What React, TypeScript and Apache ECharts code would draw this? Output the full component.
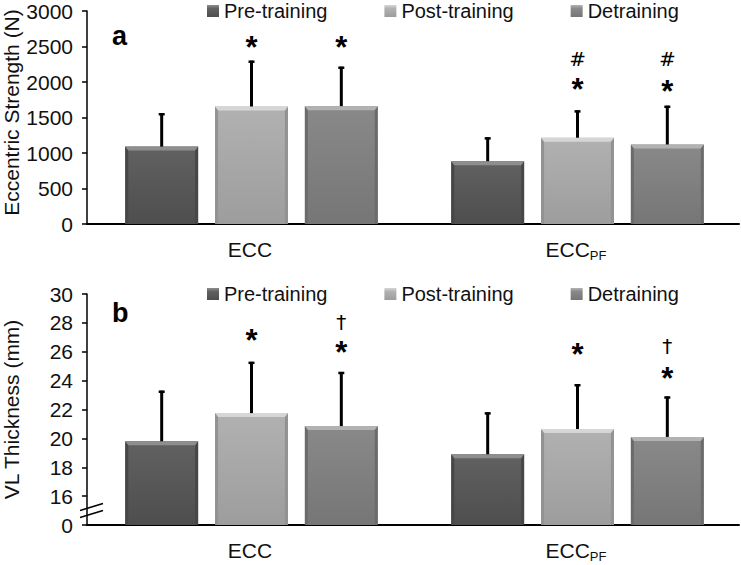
import React, { useEffect, useRef } from 'react';
import * as echarts from 'echarts';

// ---- data ----
const categories = ['ECC', 'ECC_PF'];
const seriesNames = ['Pre-training', 'Post-training', 'Detraining'];

// Panel a: eccentric strength (N)
const strengthPre = [1090, 885];
const strengthPost = [1655, 1215];
const strengthDet = [1660, 1120];
const strengthPreSD = [470, 335];
const strengthPostSD = [645, 385];
const strengthDetSD = [555, 545];

// Panel b: VL thickness (mm)
const thickPre = [19.8, 18.9];
const thickPost = [21.75, 20.65];
const thickDet = [20.85, 20.1];
const thickPreSD = [3.5, 2.9];
const thickPostSD = [3.55, 3.1];
const thickDetSD = [3.75, 2.8];

// significance marks: [categoryIndex, barIndex, yValue, text]
const strengthMarks: [number, number, number, string][] = [
  [0, 1, 2549, '*'],
  [0, 2, 2549, '*'],
  [1, 1, 2324, '#'],
  [1, 1, 1957, '*'],
  [1, 2, 2324, '#'],
  [1, 2, 1929, '*'],
];
const thickMarks: [number, number, number, string][] = [
  [0, 1, 27.03, '*'],
  [0, 2, 28.08, '†'],
  [0, 2, 26.2, '*'],
  [1, 1, 26.06, '*'],
  [1, 2, 26.4, '†'],
  [1, 2, 24.45, '*'],
];

// axes
const strengthAxis = { min: 0, max: 3000, interval: 500 };
const thickAxis = { min: 14, max: 30, interval: 2, breakLabel: '0' };

// ---- style ----
const FONT = '"Liberation Sans", Arial, sans-serif';
const TEXT = '#111';
const GRID_LEFT = 87;
const GRID_RIGHT = 2;
const BAR_W = 0.2235;
const BAR_STEP = 0.2755;

const palettes = [
  { top: '#8e8e8e', hi: '#616161', lo: '#4e4e4e', side: '#474747' },
  { top: '#d6d6d6', hi: '#b1b1b1', lo: '#9d9d9d', side: '#929292' },
  { top: '#b2b2b2', hi: '#898989', lo: '#767676', side: '#6b6b6b' },
];

function barRenderer(bi: number) {
  return (params: any, api: any) => {
    const cat = api.value(0);
    const v = api.value(1);
    const cs = params.coordSys;
    const catW = api.size([1, 0])[0];
    const c = api.coord([cat, v]);
    const cx = c[0] + (bi - 1) * catW * BAR_STEP + 1.5;
    const w = catW * BAR_W;
    const x = cx - w / 2;
    const y = c[1];
    const bottom = cs.y + cs.height;
    const p = palettes[bi];
    const b = 3;
    return {
      type: 'group',
      children: [
        {
          type: 'rect',
          shape: { x, y, width: w, height: bottom - y },
          style: {
            fill: new echarts.graphic.LinearGradient(0, 0, 0, 1, [
              { offset: 0, color: p.hi },
              { offset: 1, color: p.lo },
            ]),
          },
        },
        { type: 'polygon', shape: { points: [[x, y], [x + b, y + b], [x + b, bottom], [x, bottom]] }, style: { fill: p.side } },
        { type: 'polygon', shape: { points: [[x + w, y], [x + w - b, y + b], [x + w - b, bottom], [x + w, bottom]] }, style: { fill: p.side } },
        { type: 'polygon', shape: { points: [[x, y], [x + w, y], [x + w - b, y + b + 1], [x + b, y + b + 1]] }, style: { fill: p.top } },
      ],
    };
  };
}

function errRenderer(params: any, api: any) {
  const cat = api.value(0);
  const mean = api.value(1);
  const sd = api.value(2);
  const bi = api.value(3);
  const catW = api.size([1, 0])[0];
  const c0 = api.coord([cat, mean]);
  const c1 = api.coord([cat, mean + sd]);
  const cx = c0[0] + (bi - 1) * catW * BAR_STEP + 1.5;
  return {
    type: 'group',
    children: [
      { type: 'line', shape: { x1: cx, y1: c0[1], x2: cx, y2: c1[1] }, style: { stroke: '#000', lineWidth: 3 } },
      { type: 'line', shape: { x1: cx - 3, y1: c1[1] + 1, x2: cx + 3, y2: c1[1] + 1 }, style: { stroke: '#000', lineWidth: 2.5 } },
    ],
  };
}

function markRenderer(marks: [number, number, number, string][]) {
  return (params: any, api: any) => {
    const cat = api.value(0);
    const y = api.value(1);
    const bi = api.value(2);
    const text = marks[params.dataIndex][3];
    const catW = api.size([1, 0])[0];
    const c = api.coord([cat, y]);
    const cx = c[0] + (bi - 1) * catW * BAR_STEP + 1.5;
    const isStar = text === '*';
    return {
      type: 'text',
      x: cx,
      y: c[1] + (isStar ? 4 : 0),
      style: {
        text,
        fill: '#000',
        font: isStar ? `bold 31px ${FONT}` : `20px "DejaVu Sans", ${FONT}`,
        align: 'center',
        verticalAlign: 'middle',
      },
    };
  };
}

function errData(mean: number[], sd: number[], bi: number) {
  return mean.map((m, i) => [i, m, sd[i], bi]);
}

function panelSeries(
  gi: number,
  means: number[][],
  sds: number[][],
  marks: [number, number, number, string][]
) {
  const out: any[] = [];
  means.forEach((m, bi) => {
    out.push({
      type: 'custom',
      name: seriesNames[bi],
      xAxisIndex: gi,
      yAxisIndex: gi,
      renderItem: barRenderer(bi),
      encode: { x: 0, y: 1 },
      itemStyle: {
        color: new echarts.graphic.LinearGradient(0, 0, 0, 1, [
          { offset: 0, color: palettes[bi].top },
          { offset: 0.3, color: palettes[bi].hi },
          { offset: 1, color: palettes[bi].lo },
        ]),
      },
      data: m.map((v, i) => [i, v]),
      z: 2,
    });
  });
  means.forEach((m, bi) => {
    out.push({
      type: 'custom',
      name: 'err' + gi + bi,
      xAxisIndex: gi,
      yAxisIndex: gi,
      renderItem: errRenderer,
      encode: { x: 0, y: 1 },
      data: errData(m, sds[bi], bi),
      z: 3,
      silent: true,
    });
  });
  out.push({
    type: 'custom',
    name: 'marks' + gi,
    xAxisIndex: gi,
    yAxisIndex: gi,
    renderItem: markRenderer(marks),
    encode: { x: 0, y: 1 },
    data: marks.map((mk) => [mk[0], mk[2], mk[1]]),
    clip: false,
    z: 4,
    silent: true,
  });
  return out;
}

function xAxisDef(gi: number) {
  return {
    type: 'category',
    gridIndex: gi,
    data: categories,
    axisLine: { lineStyle: { color: '#000', width: 2 } },
    axisTick: { show: false },
    axisLabel: {
      margin: 17,
      color: TEXT,
      formatter: (v: string) => {
        const parts = v.split('_');
        return parts.length > 1 ? `{m|${parts[0]}}{s|${parts[1]}}` : `{m|${v}}`;
      },
      rich: {
        m: { fontSize: 21, fontFamily: FONT, color: TEXT, lineHeight: 21, padding: [0, 0, 4, 0] },
        s: { fontSize: 13, fontFamily: FONT, color: TEXT, verticalAlign: 'bottom', lineHeight: 13 },
      },
    },
  };
}

function yAxisDef(gi: number, ax: any, name: string, formatter: (v: number) => string, namePad: number[]) {
  return {
    type: 'value',
    gridIndex: gi,
    min: ax.min,
    max: ax.max,
    interval: ax.interval,
    name,
    nameLocation: 'middle',
    nameGap: 65,
    nameMoveOverlap: false,
    nameTextStyle: { fontSize: 21, fontFamily: FONT, color: TEXT, padding: namePad },
    axisLine: { show: true, lineStyle: { color: '#000', width: 1.5 } },
    axisTick: { show: true, length: 5, lineStyle: { color: '#000', width: 1.5 } },
    splitLine: { show: false },
    axisLabel: { fontSize: 21, fontFamily: FONT, color: TEXT, margin: 14, formatter },
  };
}

function legendDef(top: number) {
  return {
    top,
    left: 207,
    padding: 0,
    data: seriesNames,
    icon: 'rect',
    itemWidth: 12,
    itemHeight: 12,
    itemGap: 57,
    selectedMode: false,
    textStyle: { fontSize: 20, fontFamily: FONT, color: TEXT },
  };
}

export default function App() {
  const ref = useRef<HTMLDivElement>(null);
  useEffect(() => {
    if (!ref.current) return;
    const chart = echarts.init(ref.current, null, { renderer: 'svg' });
    const option: any = {
      animation: false,
      backgroundColor: '#fff',
      textStyle: { fontFamily: FONT },
      legend: [legendDef(1), legendDef(284)],
      grid: [
        { left: GRID_LEFT, right: GRID_RIGHT, top: 11, height: 213, containLabel: false, outerBoundsMode: 'none' },
        { left: GRID_LEFT, right: GRID_RIGHT, top: 294, height: 231, containLabel: false, outerBoundsMode: 'none' },
      ],
      xAxis: [xAxisDef(0), xAxisDef(1)],
      yAxis: [
        yAxisDef(0, strengthAxis, 'Eccentric Strength (N)', (v: number) => String(v), [0, 0, 0, 10]),
        yAxisDef(1, thickAxis, 'VL Thickness (mm)', (v: number) =>
          v === thickAxis.min ? thickAxis.breakLabel : String(v), [0, 0, 0, 0]
        ),
      ],
      series: [
        ...panelSeries(0, [strengthPre, strengthPost, strengthDet], [strengthPreSD, strengthPostSD, strengthDetSD], strengthMarks),
        ...panelSeries(1, [thickPre, thickPost, thickDet], [thickPreSD, thickPostSD, thickDetSD], thickMarks),
      ],
      graphic: [
        { type: 'text', x: 112, y: 36, style: { text: 'a', font: `bold 27px ${FONT}`, fill: '#000', verticalAlign: 'middle' } },
        { type: 'text', x: 112, y: 313, style: { text: 'b', font: `bold 27px ${FONT}`, fill: '#000', verticalAlign: 'middle' } },
      ],
    };
    chart.setOption(option);
    // axis-break marks between the "0" and first real tick
    const yMid = chart.convertToPixel({ yAxisIndex: 1 }, (thickAxis.min + thickAxis.min + thickAxis.interval) / 2) as number;
    const x0 = GRID_LEFT;
    chart.setOption({
      graphic: [
        ...option.graphic,
        { type: 'line', shape: { x1: x0 - 7, y1: yMid, x2: x0 + 16, y2: yMid - 7 }, style: { stroke: '#000', lineWidth: 1.5 } },
        { type: 'line', shape: { x1: x0 - 7, y1: yMid + 7, x2: x0 + 16, y2: yMid }, style: { stroke: '#000', lineWidth: 1.5 } },
      ],
    });
    return () => chart.dispose();
  }, []);
  return <div ref={ref} style={{ width: 741, height: 565, position: 'absolute', left: 0, top: 0 }} />;
}
